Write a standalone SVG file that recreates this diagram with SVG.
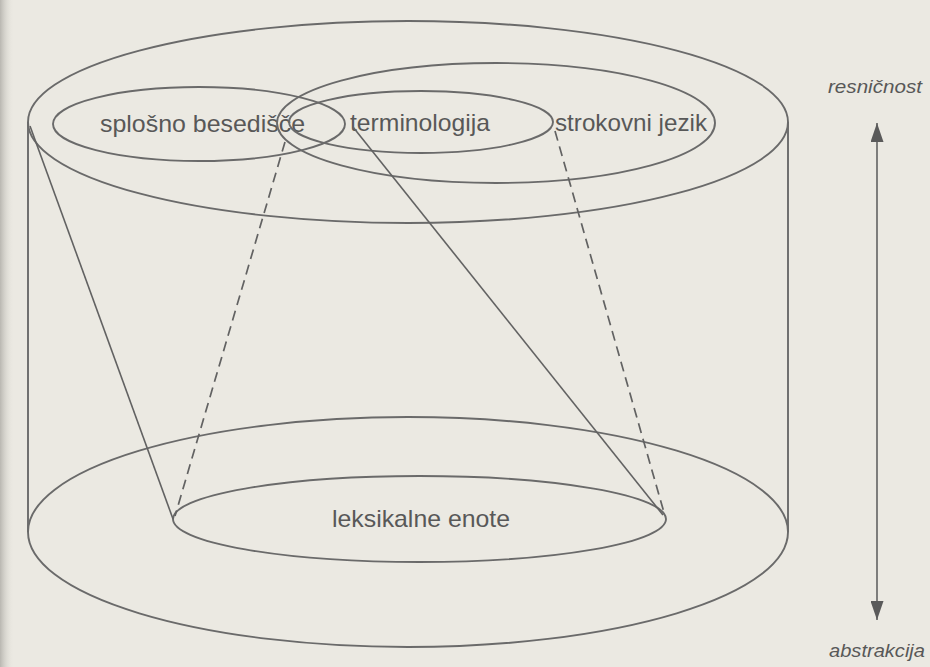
<svg xmlns="http://www.w3.org/2000/svg" width="930" height="667" viewBox="0 0 930 667">
  <defs>
    <linearGradient id="gutter" x1="0" y1="0" x2="1" y2="0">
      <stop offset="0" stop-color="#b9b7b1"/>
      <stop offset="1" stop-color="#e9e7e0" stop-opacity="0"/>
    </linearGradient>
    <marker id="arrow" viewBox="0 0 19 13" refX="19" refY="6.5" markerWidth="19" markerHeight="13" markerUnits="userSpaceOnUse" orient="auto-start-reverse">
      <path d="M0,0 L19,6.5 L0,13 z" fill="#5a5a5a"/>
    </marker>
    <style>
      .shape { fill: none; stroke: #6a6a6a; stroke-width: 1.9; }
      .line { fill: none; stroke: #626262; stroke-width: 1.6; }
      .dash { fill: none; stroke: #626262; stroke-width: 1.7; stroke-dasharray: 10 6; }
      .lbl { font-family: "Liberation Sans", Arial, sans-serif; font-size: 24px; fill: #585858; }
      .axis { font-family: "Liberation Sans", Arial, sans-serif; font-size: 19px; font-style: italic; fill: #585858; }
    </style>
  </defs>

  <rect x="0" y="0" width="930" height="667" fill="#ebe9e2"/>
  <rect x="0" y="0" width="14" height="667" fill="url(#gutter)"/>

  <g id="top-cylinder">
    <ellipse class="shape" cx="408" cy="122" rx="380" ry="101"/>
    <line class="shape" x1="28" y1="122" x2="28" y2="532"/>
    <line class="shape" x1="788" y1="122" x2="788" y2="532"/>
  </g>

  <g id="bottom-cylinder">
    <ellipse class="shape" cx="408" cy="532" rx="380" ry="115"/>
  </g>

  <g id="splosno-besedisce">
    <ellipse class="shape" cx="199" cy="124" rx="146" ry="37"/>
    <text class="lbl" x="100" y="132" textLength="205" lengthAdjust="spacingAndGlyphs">splošno besedišče</text>
  </g>

  <g id="strokovni-jezik">
    <ellipse class="shape" cx="496" cy="123" rx="219" ry="60"/>
    <text class="lbl" x="555" y="131" textLength="152" lengthAdjust="spacingAndGlyphs">strokovni jezik</text>
  </g>

  <g id="terminologija">
    <ellipse class="shape" cx="421" cy="122" rx="132" ry="31"/>
    <text class="lbl" x="350" y="131" textLength="140" lengthAdjust="spacingAndGlyphs">terminologija</text>
  </g>

  <g id="leksikalne-enote">
    <ellipse class="shape" cx="419.5" cy="519" rx="246.5" ry="43"/>
    <text class="lbl" x="332" y="527" textLength="178" lengthAdjust="spacingAndGlyphs">leksikalne enote</text>
  </g>

  <g id="connectors">
    <line class="line" x1="30" y1="126" x2="173" y2="519"/>
    <line class="dash" x1="285" y1="142" x2="175" y2="516"/>
    <line class="line" x1="353" y1="127" x2="663" y2="515"/>
    <line class="dash" x1="555" y1="131" x2="665" y2="516"/>
    <line class="line" x1="877" y1="123" x2="877" y2="620" marker-start="url(#arrow)" marker-end="url(#arrow)"/>
  </g>

  <g id="axis-labels">
    <text class="axis" x="828" y="93" textLength="94" lengthAdjust="spacingAndGlyphs">resničnost</text>
    <text class="axis" x="829" y="657" textLength="96" lengthAdjust="spacingAndGlyphs">abstrakcija</text>
  </g>
</svg>
